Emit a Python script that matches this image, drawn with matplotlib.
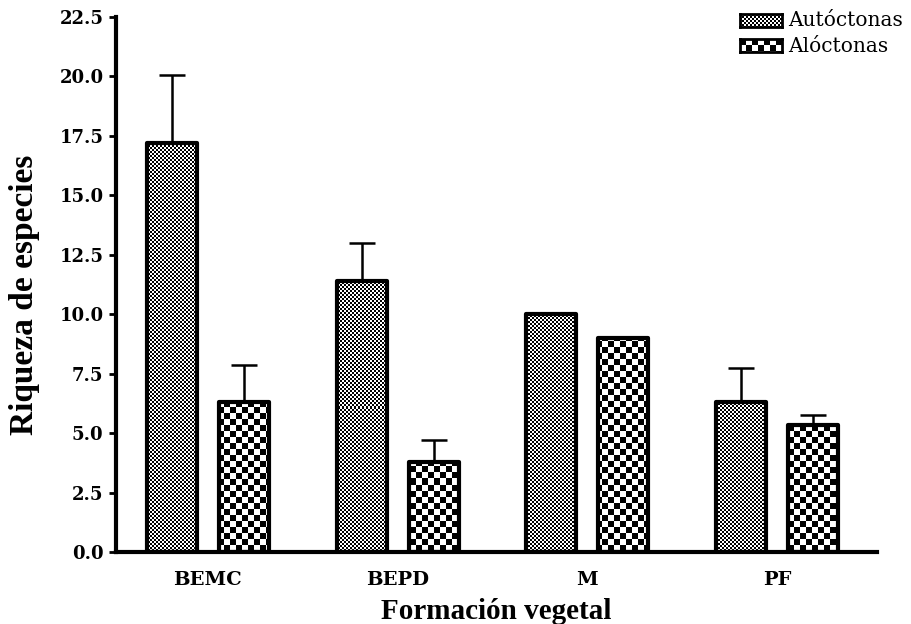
"""
Riqueza de especies por formación vegetal
Bar chart with checker textures, GraphPad-style
"""

import matplotlib
matplotlib.use("Agg")
import matplotlib.pyplot as plt
import numpy as np


# Data
formaciones = ["BEMC", "BEPD", "M", "PF"]
autoctonas = [17.2, 11.4, 10.0, 6.3]
autoctonas_err = [2.85, 1.6, 0.0, 1.45]
aloctonas = [6.3, 3.8, 9.0, 5.33]
aloctonas_err = [1.55, 0.9, 0.0, 0.45]
series_names = ["Autóctonas", "Alóctonas"]
yticks = [0.0, 2.5, 5.0, 7.5, 10.0, 12.5, 15.0, 17.5, 20.0, 22.5]

W, H, DPI = 911, 624, 100
AX_RECT = [116 / W, 1 - 552 / H, (877 - 116) / W, (552 - 17) / H]


def checker(h, w, cell):
    yy, xx = np.mgrid[0:h, 0:w]
    return ((yy // cell + xx // cell) % 2).astype(float)


def textured_bars(ax, x, heights, width, cell):
    """Bars with a pixel checker fill clipped to each bar."""
    bars = ax.bar(x, heights, width, facecolor="none", edgecolor="black",
                  linewidth=3, joinstyle="round", zorder=3)
    pw = int(round(AX_RECT[2] * W))
    ph = int(round(AX_RECT[3] * H))
    tex = checker(ph, pw, cell)
    for b in bars:
        im = ax.imshow(tex, cmap="gray", vmin=0, vmax=1, extent=(0, 1, 0, 1),
                       transform=ax.transAxes, interpolation="nearest",
                       aspect="auto", zorder=2)
        im.set_clip_path(b)
    return bars


fig = plt.figure(figsize=(W / DPI, H / DPI), dpi=DPI)
ax = fig.add_axes(AX_RECT)

x = np.arange(len(formaciones))
width = 50 / 190
offset = 36 / 190

ax.errorbar(x - offset, autoctonas, yerr=[np.zeros(4), autoctonas_err],
            fmt="none", ecolor="black", elinewidth=1.8, capsize=9.4,
            capthick=1.8, zorder=1)
ax.errorbar(x + offset, aloctonas, yerr=[np.zeros(4), aloctonas_err],
            fmt="none", ecolor="black", elinewidth=1.8, capsize=9.4,
            capthick=1.8, zorder=1)
textured_bars(ax, x - offset, autoctonas, width, 2)
textured_bars(ax, x + offset, aloctonas, width, 6)

ax.set_xlim(-92 / 190, 3 + 100 / 190)
ax.set_ylim(0, 22.5)
ax.set_yticks(yticks)
ax.set_yticklabels([f"{v:.1f}" for v in yticks])
ax.set_xticks(x)
ax.set_xticklabels(formaciones)

for side in ["top", "right"]:
    ax.spines[side].set_visible(False)
for side in ["left", "bottom"]:
    ax.spines[side].set_linewidth(3)
ax.tick_params(axis="y", length=5, width=2, pad=4)
ax.tick_params(axis="x", length=0, pad=14)
for lab in ax.get_yticklabels():
    lab.set_fontfamily("DejaVu Serif")
    lab.set_fontweight("bold")
    lab.set_fontsize(13)
for lab in ax.get_xticklabels():
    lab.set_fontfamily("DejaVu Serif")
    lab.set_fontweight("bold")
    lab.set_fontsize(14)

ax.set_xlabel("Formación vegetal", fontfamily="Liberation Serif",
              fontweight="bold", fontsize=21, labelpad=6)
ax.set_ylabel("Riqueza de especies", fontfamily="Liberation Serif",
              fontweight="bold", fontsize=24)
ax.yaxis.set_label_coords(-0.100, 0.48)

# manual legend with the same checker textures
for i, (name, cell) in enumerate(zip(series_names, [2, 6])):
    y_top = 14 + i * 25
    lax = fig.add_axes([740 / W, 1 - (y_top + 13) / H, 42 / W, 13 / H])
    lax.imshow(checker(13, 42, cell), cmap="gray", vmin=0, vmax=1,
               interpolation="nearest", aspect="auto")
    lax.set_xticks([])
    lax.set_yticks([])
    for s in lax.spines.values():
        s.set_linewidth(2)
    fig.text(788 / W, 1 - (y_top + 7) / H, name, fontfamily="DejaVu Serif",
             fontsize=14.5, va="center", ha="left")

fig.savefig("out.png", dpi=DPI)
